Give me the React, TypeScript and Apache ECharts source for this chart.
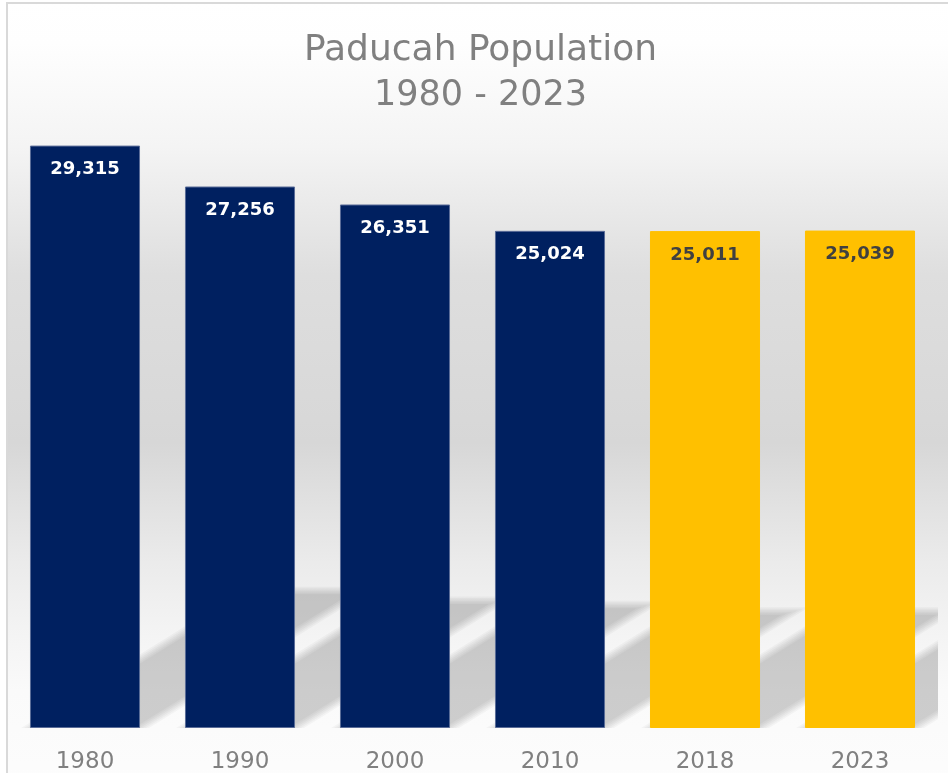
import React, { useEffect, useRef } from "react";
import * as echarts from "echarts";

const TITLE_LINE_1 = "Paducah Population";
const TITLE_LINE_2 = "1980 - 2023";
const categories = ["1980", "1990", "2000", "2010", "2018", "2023"];
const population = [29315, 27256, 26351, 25024, 25011, 25039];
const estimateYears = ["2018", "2023"];

const NAVY = "#002060";
const GOLD = "#FFC000";

export default function App() {
  const ref = useRef<HTMLDivElement>(null);

  useEffect(() => {
    if (!ref.current) return;
    const chart = echarts.init(ref.current, null, { renderer: "svg" });

    const barData = population.map((v, i) => {
      const est = estimateYears.includes(categories[i]);
      return {
        value: v,
        itemStyle: {
          color: est ? GOLD : NAVY,
          borderColor: est ? GOLD : "#5a6c98",
          borderWidth: 1,
        },
        label: { color: est ? "#404040" : "#ffffff" },
      };
    });

    const shadowData = population.map((v, i) => [i, v]);
    const SLOPE = 0.62;
    const LAYERS = [0, 3, 6, 9, 12, 15];

    chart.setOption({
      animation: false,
      graphic: [
        {
          type: "rect",
          z: -10,
          silent: true,
          shape: { x: 7, y: 3, width: 950, height: 800 },
          style: {
            stroke: "#d9d9d9",
            lineWidth: 2,
            fill: new echarts.graphic.LinearGradient(0, 0, 0, 1, [
              { offset: 0, color: "#ffffff" },
              { offset: 0.05, color: "#fefefe" },
              { offset: 0.18, color: "#f4f4f4" },
              { offset: 0.34, color: "#dedede" },
              { offset: 0.55, color: "#d7d7d7" },
              { offset: 0.7, color: "#ebebeb" },
              { offset: 0.78, color: "#f3f3f3" },
              { offset: 0.86, color: "#fafafa" },
              { offset: 1, color: "#fdfdfd" },
            ]),
          },
        },
      ],
      title: {
        text: "{a|" + TITLE_LINE_1 + "}\n{b|" + TITLE_LINE_2 + "}",
        left: "center",
        top: 19,
        textStyle: {
          rich: {
            a: {
              fontFamily: "DejaVu Sans",
              fontWeight: "normal",
              fontSize: 36,
              lineHeight: 46,
              color: "#808080",
            },
            b: {
              fontFamily: "DejaVu Sans",
              fontWeight: "normal",
              fontSize: 35,
              lineHeight: 46,
              color: "#808080",
            },
          },
        },
      },
      grid: { left: 7.5, right: 23.5, top: 132, bottom: 72, containLabel: false },
      xAxis: {
        type: "category",
        data: categories,
        axisLine: { show: false },
        axisTick: { show: false },
        axisLabel: {
          fontFamily: "DejaVu Sans",
          fontWeight: "normal",
          fontSize: 23,
          color: "#808080",
          margin: 20,
        },
      },
      yAxis: {
        type: "value",
        min: 0,
        max: 30000,
        show: false,
        splitLine: { show: false },
      },
      series: [
        {
          type: "custom",
          z: 1,
          clip: true,
          silent: true,
          data: shadowData,
          renderItem: (params: any, api: any) => {
            const base = api.coord([api.value(0), 0]);
            const top = api.coord([api.value(0), api.value(1)]);
            const catW = api.size([1, 0])[0];
            const half = (catW * 0.71) / 2;
            const barH = base[1] - top[1];
            const h = barH * 0.24;
            const x0 = base[0] - half;
            const x1 = base[0] + half;
            const y = base[1];
            const children = LAYERS.map((e) => {
              const hh = h + e * 0.5 - 6;
              const dx = hh / SLOPE;
              return {
                type: "polygon",
                shape: {
                  points: [
                    [x0 - e + 6, y],
                    [x1 + e - 6, y],
                    [x1 + e - 6 + dx, y - hh],
                    [x0 - e + 6 + dx, y - hh],
                  ],
                },
                style: { fill: "rgba(0,0,0,0.032)" },
              };
            });
            return { type: "group", children };
          },
        },
        {
          type: "bar",
          z: 2,
          data: barData,
          barCategoryGap: "29%",
          label: {
            show: true,
            position: "insideTop",
            distance: 13,
            fontFamily: "DejaVu Sans",
            fontWeight: "bold",
            fontSize: 18,
            formatter: (p: any) => Number(p.value).toLocaleString("en-US"),
          },
        },
      ],
    });

    return () => chart.dispose();
  }, []);

  return (
    <div
      ref={ref}
      style={{ position: "fixed", left: 0, top: 0, width: 961, height: 800 }}
    />
  );
}
